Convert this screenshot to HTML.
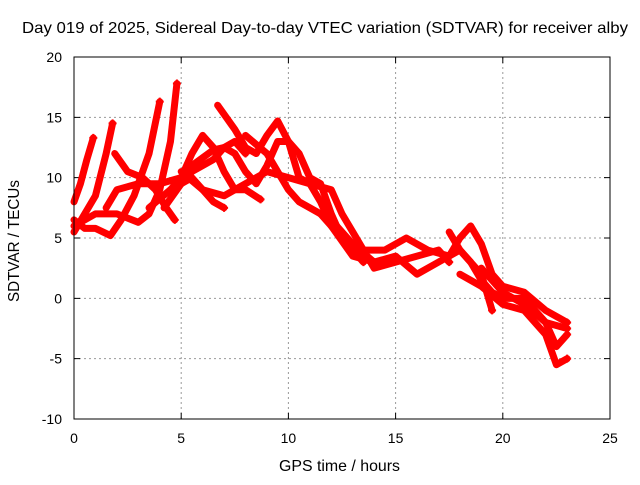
<!DOCTYPE html>
<html><head><meta charset="utf-8"><style>
body{margin:0;background:#fff}
svg text{font-family:"Liberation Sans",sans-serif;font-size:14px;fill:#000}
</style></head><body>
<svg id="c" width="640" height="480" xmlns="http://www.w3.org/2000/svg">
<rect width="640" height="480" fill="#fff"/>
<text x="22" y="33" textLength="606" lengthAdjust="spacingAndGlyphs" style="font-size:16px">Day 019 of 2025, Sidereal Day-to-day VTEC variation (SDTVAR) for receiver alby</text>
<text x="279" y="471" textLength="121" lengthAdjust="spacingAndGlyphs" style="font-size:16px">GPS time / hours</text>
<text transform="translate(19,302) rotate(-90)" textLength="122" lengthAdjust="spacingAndGlyphs" style="font-size:16px">SDTVAR / TECUs</text>
<g id="grid"></g><g id="marks"></g>
<rect x="74" y="57" width="536" height="362" fill="none" stroke="#000" stroke-width="1"/>
</svg>
<script>
const xTicks=[0,5,10,15,20,25];
const yTicks=[-10,-5,0,5,10,15,20];
const track1=[[0,8],[0.3,9.5],[0.6,11.5],[0.9,13.3]];
const track2=[[0,5.5],[0.5,7],[1,8.5],[1.5,12],[1.8,14.5]];
const track3=[[0,6.5],[0.5,5.8],[1,5.8],[1.7,5.2],[2.2,6.5],[2.8,8.5],[3.5,12],[4,16.3]];
const track4=[[0,6],[1,7],[2,7],[3,6.3],[3.5,7],[4,9],[4.5,13],[4.8,17.8]];
const track5=[[1.9,12],[2.5,10.5],[3.2,10],[3.8,9],[4.3,7.5],[4.7,6.5]];
const track6=[[1.5,7.5],[2,9],[3,9.5],[4,9.5],[5,10],[5.5,12],[6,13.5],[6.5,12.5],[7,10.5],[7.5,9],[8,9],[8.7,8.2]];
const track7=[[3.5,7.5],[4.5,9],[5,10],[5.5,11],[6.5,12.3],[7,12.5],[7.5,12],[8,10.5],[8.5,9.5],[9,11],[9.5,13],[10,13],[10.5,12],[11,10],[11.5,9.5],[12,7],[12.5,5],[13,4],[13.5,3]];
const track8=[[4.2,7.5],[5,9.5],[5.5,10.5],[6,11],[6.5,11.5],[7,12.5],[7.5,13],[8,12]];
const track9=[[6.7,16],[7.5,14],[8,12.5],[8.5,12],[9,13.5],[9.5,14.7],[10,13],[10.5,10],[11,9.5],[11.5,8],[12,6],[13,3.5],[14,3]];
const track10=[[5,10.5],[6,9],[7,8.5],[8,9.5],[9,10.5],[10,10],[11,9.5],[12,9],[12.5,7],[13,5.5],[13.5,4],[14,2.5],[15,3],[16,3.5],[17,4],[17.5,3]];
const track11=[[4.5,9],[5.5,10],[6,9],[6.5,8],[7,7.5]];
const track12=[[8,13.5],[9,12],[10,9],[10.5,8],[11,7.5],[12,6.5],[13,4.5],[14,3],[15,3.5],[16,2],[17,3],[18,4],[19,2],[19.5,-1]];
const track13=[[11.5,7],[12.5,5],[13.5,4],[14.5,4],[15.5,5],[16.5,4],[17.5,3.5],[18,5],[18.5,6],[19,4.5],[19.5,2],[20,1],[21,0.5],[22,-1],[23,-2]];
const track14=[[17.5,5.5],[18,4],[18.5,3],[19,1.5],[19.5,0.5],[20,0],[21,0],[22,-2],[22.5,-4],[23,-3]];
const track15=[[18,2],[19,1],[20,-0.5],[21,-1],[22,-3],[22.5,-5.5],[23,-5]];
const track16=[[19,2.5],[20,0.5],[21,-0.5],[22,-2],[23,-2.5]];
const tracks=[track1,track2,track3,track4,track5,track6,track7,track8,track9,track10,track11,track12,track13,track14,track15,track16];
const X0=74,X1=610,Y0=419,Y1=57;
const sx=v=>X0+(v-0)/(25-0)*(X1-X0);
const sy=v=>Y0-(v+10)/(30)*(Y0-Y1);
const NS="http://www.w3.org/2000/svg";
const grid=document.getElementById('grid'),marks=document.getElementById('marks');
function mk(t,a){const e=document.createElementNS(NS,t);for(const k in a)e.setAttribute(k,a[k]);return e;}
xTicks.forEach(t=>{
 const x=sx(t);
 if(t>0&&t<25){const g=mk('line',{x1:x,y1:Y0,x2:x,y2:Y1,stroke:'#999','stroke-dasharray':'2,3'});grid.appendChild(g);}
 const tk=mk('path',{d:`M${x},${Y0}v-6M${x},${Y1}v6`,stroke:'#000'});grid.appendChild(tk);
 const tx=mk('text',{x:x,y:Y0+24,'text-anchor':'middle'});tx.textContent=t;grid.appendChild(tx);
});
yTicks.forEach(t=>{
 const y=sy(t);
 if(t>-10&&t<20){const g=mk('line',{x1:X0,y1:y,x2:X1,y2:y,stroke:'#999','stroke-dasharray':'2,3'});grid.appendChild(g);}
 const tk=mk('path',{d:`M${X0},${y}h6M${X1},${y}h-6`,stroke:'#000'});grid.appendChild(tk);
 const tx=mk('text',{x:X0-12,y:y+5,'text-anchor':'end'});tx.textContent=t;grid.appendChild(tx);
});
tracks.forEach((tr,i)=>{
 const p=mk('polyline',{points:tr.map(d=>sx(d[0])+','+sy(d[1])).join(' '),fill:'none',stroke:'#f00','stroke-width':7,'stroke-linejoin':'round','stroke-linecap':'round'});
 
 
 marks.appendChild(p);
 const e=tr[tr.length-1];
 const m=mk('path',{d:`M${sx(e[0])-4},${sy(e[1])}h8M${sx(e[0])},${sy(e[1])-4}v8`,stroke:'#f00','stroke-width':2});
 
 
 marks.appendChild(m);
});
</script>
</body></html>
